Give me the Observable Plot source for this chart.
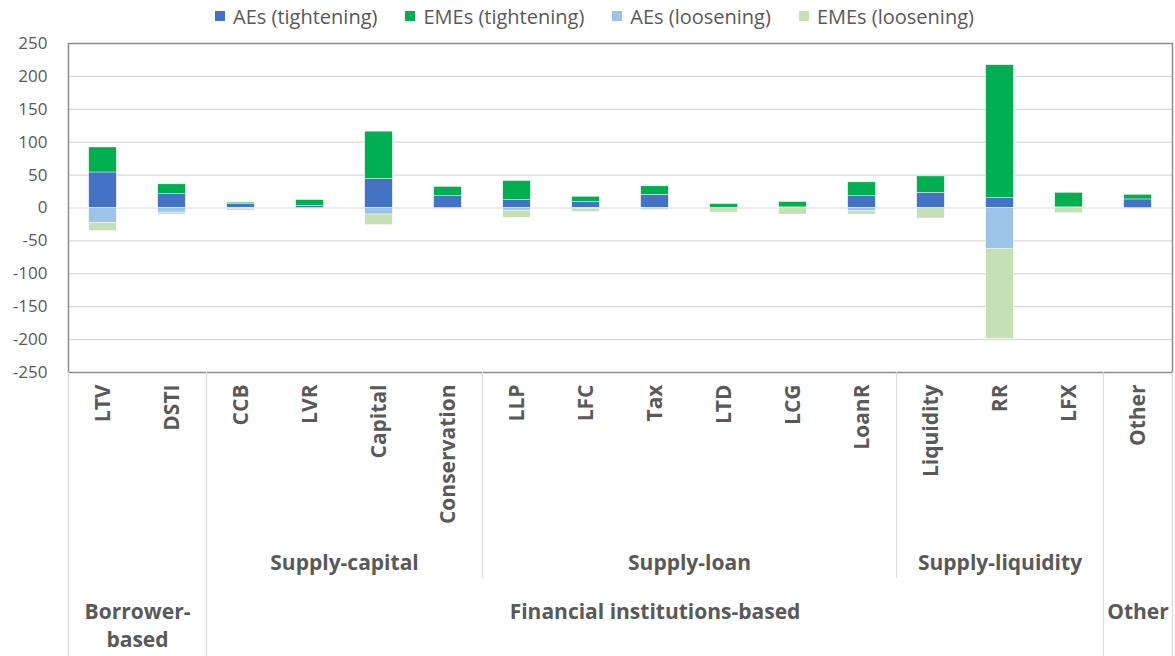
<!DOCTYPE html>
<html>
<head>
<meta charset="utf-8">
<script src="https://cdn.jsdelivr.net/npm/d3@7"></script>
<script src="https://cdn.jsdelivr.net/npm/@observablehq/plot@0.6"></script>
<style>
  body { margin: 0; background: #fff; font-family: "Open Sans", sans-serif; }
  #legend { height: 24px; padding-top: 4px; display: flex; justify-content: center; align-items: center; gap: 28px; font-size: 20px; color: #595959; padding-left: 14px; }
  #legend .item { display: flex; align-items: center; gap: 8px; }
  #legend .sw { width: 10px; height: 10px; display: inline-block; }
  svg { display: block; overflow: visible; }
</style>
</head>
<body>
<div id="legend"></div>
<div id="chart"></div>
<script>
const categories = ["LTV","DSTI","CCB","LVR","Capital","Conservation","LLP","LFC","Tax","LTD","LCG","LoanR","Liquidity","RR","LFX","Other"];
const aesTightening  = [54, 21, 6, 3, 44, 18, 12, 9, 20, 0, 1, 18, 23, 15, 1, 13];
const emesTightening = [38, 15, 2, 9, 72, 14, 29, 8, 13, 6, 8, 21, 25, 202, 22, 7];
const aesLoosening   = [-23, -7, -1, 0, -10, 0, -4, -1, 0, 0, 0, -5, 0, -62, 0, 0];
const emesLoosening  = [-12, -3, -3, 0, -16, 0, -11, -5, -3, -7, -10, -5, -16, -137, -8, 0];

const seriesNames = ["AEs (tightening)", "EMEs (tightening)", "AEs (loosening)", "EMEs (loosening)"];
const seriesColors = ["#4472C4", "#00B050", "#9DC3E6", "#C5E0B4"];
const yTicks = [-250, -200, -150, -100, -50, 0, 50, 100, 150, 200, 250];

const mainGroups = [
  {label: "Borrower-\nbased", start: 0, end: 1},
  {label: "Financial institutions-based", start: 2, end: 14},
  {label: "Other", start: 15, end: 15}
];
const subGroups = [
  {label: "Supply-capital", start: 2, end: 5},
  {label: "Supply-loan", start: 6, end: 11},
  {label: "Supply-liquidity", start: 12, end: 14}
];

// legend
const legend = document.getElementById("legend");
seriesNames.forEach((n, i) => {
  const it = document.createElement("span");
  it.className = "item";
  it.innerHTML = `<span class="sw" style="background:${seriesColors[i]}"></span><span>${n}</span>`;
  legend.appendChild(it);
});

// manual stacking
const rows = [];
categories.forEach((c, i) => {
  const a = aesTightening[i], e = emesTightening[i];
  rows.push({i, s: seriesNames[0], y1: 0, y2: a});
  rows.push({i, s: seriesNames[1], y1: a, y2: a + e});
  const al = aesLoosening[i], el = emesLoosening[i];
  rows.push({i, s: seriesNames[2], y1: 0, y2: al});
  rows.push({i, s: seriesNames[3], y1: al, y2: al + el});
});
const bars = rows.filter(r => r.y1 !== r.y2);

const catRows = categories.map((c, i) => ({c, i}));
const mainSeps = [...mainGroups.map(g => g.start - 0.5), categories.length - 0.5];
const subSeps = [subGroups[0].end + 0.5, subGroups[1].end + 0.5];

const W = 1175, H = 628;
const mTop = 15, mBottom = 284;
const plotH = H - mTop - mBottom;

const fmt = d => d < 0 ? "-" + Math.abs(d) : String(d);

const chart = Plot.plot({
  width: W,
  height: H,
  marginTop: mTop,
  marginBottom: mBottom,
  marginLeft: 68,
  marginRight: 3,
  style: {fontFamily: "'Open Sans', sans-serif", color: "#595959", background: "#fff", overflow: "visible"},
  x: {type: "linear", domain: [-0.5, categories.length - 0.5], axis: null},
  y: {domain: [-250, 250], label: null},
  color: {domain: seriesNames, range: seriesColors},
  marks: [
    Plot.ruleY(yTicks, {stroke: "#d9d9d9", strokeWidth: 1.2}),
    Plot.rect(bars, {x1: d => d.i - 0.2, x2: d => d.i + 0.2, y1: "y1", y2: "y2", fill: "s", stroke: "#fff", strokeWidth: 0.6, strokeOpacity: 0.7}),
    Plot.frame({stroke: "#8c8c8c", strokeWidth: 1.5}),
    Plot.axisY({ticks: yTicks, tickSize: 0, tickPadding: 21, fontSize: 17, fill: "#595959", label: null, tickFormat: fmt}),
    // separators below the plot
    Plot.ruleX(mainSeps, {x: d => d, stroke: "#d9d9d9", strokeWidth: 1.2, insetTop: plotH, insetBottom: -mBottom}),
    Plot.ruleX(subSeps, {x: d => d, stroke: "#d9d9d9", strokeWidth: 1.2, insetTop: plotH, insetBottom: -206}),
    // category labels
    Plot.text(catRows, {x: "i", y: () => -250, text: "c", rotate: -90, textAnchor: "end", lineAnchor: "middle", dy: 12, fontSize: 21, fontWeight: "bold", fill: "#595959"}),
    // sub group labels
    Plot.text(subGroups, {x: d => (d.start + d.end) / 2, y: () => -250, text: "label", dy: 191, fontSize: 21, fontWeight: "bold", fill: "#595959", lineAnchor: "middle"}),
    // main group labels
    Plot.text(mainGroups, {x: d => (d.start + d.end) / 2, y: () => -250, text: "label", dy: 227, fontSize: 21, fontWeight: "bold", fill: "#595959", lineAnchor: "top", lineHeight: 1.33})
  ]
});
document.getElementById("chart").appendChild(chart);
</script>
</body>
</html>
